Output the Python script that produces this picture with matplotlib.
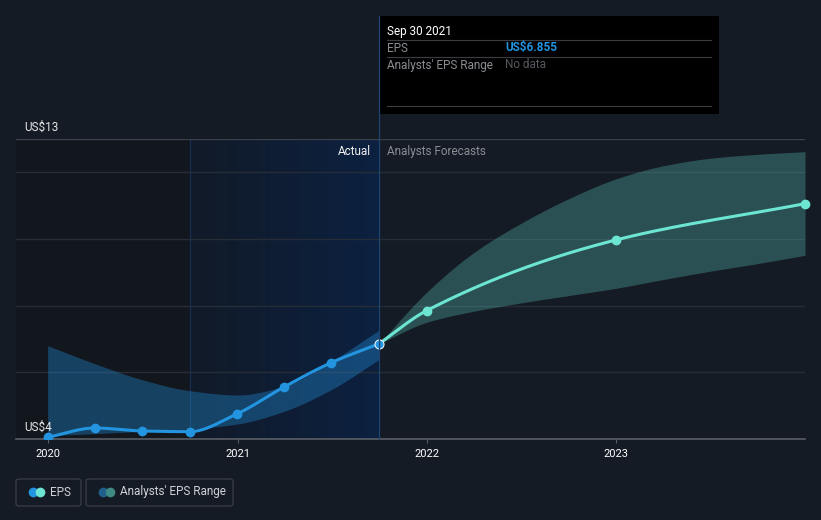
import numpy as np
import pandas as pd
import matplotlib
matplotlib.use('Agg')
import matplotlib.pyplot as plt
import matplotlib.dates as mdates
from matplotlib.patches import Rectangle, FancyBboxPatch
from matplotlib.lines import Line2D

plt.rcParams['font.family'] = ['Roboto', 'DejaVu Sans']

# Данные: фактический EPS
eps_dates = ['2019-12-31', '2020-03-31', '2020-06-30', '2020-09-30',
             '2020-12-31', '2021-03-31', '2021-06-30', '2021-09-30']
eps_vals = [4.05, 4.33, 4.24, 4.22, 4.76, 5.56, 6.29, 6.855]

# Прошлый диапазон аналитиков
range_low = [4.10, 4.16, 4.23, 4.30, 4.45, 4.83, 5.48, 6.38]
range_high = [6.80, 6.26, 5.78, 5.45, 5.32, 5.58, 6.33, 7.26]

# Прогноз
fc_dates = ['2021-09-30', '2021-12-31', '2022-12-31', '2023-12-31']
fc_vals = [6.855, 7.85, 9.97, 11.06]

fc_band_dates = ['2021-09-30', '2021-12-31', '2022-03-31', '2022-06-30', '2022-09-30',
                 '2022-12-31', '2023-03-31', '2023-06-30', '2023-09-30', '2023-12-31']
fc_high = [6.855, 8.40, 9.58, 10.46, 11.20, 11.80, 12.19, 12.42, 12.54, 12.62]
fc_low = [6.855, 7.50, 7.83, 8.08, 8.30, 8.52, 8.78, 9.03, 9.26, 9.51]

year_ticks = ['2020', '2021', '2022', '2023']

BG = '#151b24'
BLUE = '#2394df'
MINT = '#6ce5d2'


def to_num(dates):
    return mdates.date2num(pd.to_datetime(dates))


def smooth(x, y, n=200):
    # монотонная кубическая кривая для отрисовки (Fritsch-Carlson)
    x = np.asarray(x, float)
    y = np.asarray(y, float)
    h = np.diff(x)
    d = np.diff(y) / h
    m = np.zeros_like(y)
    m[0], m[-1] = d[0], d[-1]
    for i in range(1, len(y) - 1):
        if d[i - 1] * d[i] <= 0:
            m[i] = 0
        else:
            w1 = 2 * h[i] + h[i - 1]
            w2 = h[i] + 2 * h[i - 1]
            m[i] = (w1 + w2) / (w1 / d[i - 1] + w2 / d[i])
    xs = np.linspace(x[0], x[-1], n)
    idx = np.clip(np.searchsorted(x, xs) - 1, 0, len(x) - 2)
    t = (xs - x[idx]) / h[idx]
    h00 = 2 * t**3 - 3 * t**2 + 1
    h10 = t**3 - 2 * t**2 + t
    h01 = -2 * t**3 + 3 * t**2
    h11 = t**3 - t**2
    ys = h00 * y[idx] + h10 * h[idx] * m[idx] + h01 * y[idx + 1] + h11 * h[idx] * m[idx + 1]
    return xs, ys


fig = plt.figure(figsize=(8.21, 5.2), dpi=100, facecolor=BG)
W, H = 821, 520
ax = fig.add_axes([16 / W, (H - 439) / H, (805 - 16) / W, 300 / H])
ax.set_facecolor(BG)

x0 = to_num(['2019-10-31'])[0]
x1 = to_num(['2023-12-31'])[0]
hl_start = to_num(['2020-09-30'])[0]
now = to_num(['2021-09-30'])[0]
ax.set_xlim(x0, x1)
ax.set_ylim(4, 13)

# тёмная область слева и подсветка последнего года
ax.axvspan(x0, hl_start, color='#12161d', zorder=0, lw=0)
grad = np.zeros((2, 256, 4))
c0 = np.array(matplotlib.colors.to_rgb('#111a28'))
c1 = np.array(matplotlib.colors.to_rgb('#0c2141'))
for i in range(256):
    grad[:, i, :3] = c0 + (c1 - c0) * i / 255
grad[:, :, 3] = 1
ax.imshow(grad, extent=[hl_start, now, 4, 13], aspect='auto', zorder=0.5)
ax.axvline(hl_start, color='#15305a', lw=0.8, zorder=0.6)

# сетка
for v in [6, 8, 10, 12]:
    ax.axhline(v, color='#272d37', lw=1, zorder=1)
ax.axhline(13, color='#3b414b', lw=1, zorder=1)

# диапазоны
ex, lo = smooth(to_num(eps_dates), range_low)
_, hi = smooth(to_num(eps_dates), range_high)
ax.fill_between(ex, lo, hi, color=BLUE, alpha=0.35, lw=0, zorder=2)

fx, flo = smooth(to_num(fc_band_dates), fc_low)
_, fhi = smooth(to_num(fc_band_dates), fc_high)
ax.fill_between(fx, flo, fhi, color='#58bfb4', alpha=0.33, lw=0, zorder=2)

# линии
lx, ly = smooth(to_num(eps_dates), eps_vals)
ax.plot(lx, ly, color=BLUE, lw=2.2, zorder=4, solid_capstyle='round')
ax.plot(to_num(eps_dates[:-1]), eps_vals[:-1], 'o', color=BLUE, ms=6, zorder=5)
fx2, fy2 = smooth(to_num(fc_dates), fc_vals)
ax.plot(fx2, fy2, color=MINT, lw=2.2, zorder=4)
ax.plot(to_num(fc_dates[1:]), fc_vals[1:], 'o', color=MINT, ms=6, zorder=5, clip_on=False)
ax.plot(to_num(eps_dates[-1:]), eps_vals[-1:], 'o', color=BLUE, ms=6.5,
        markeredgecolor='#e8f2fb', markeredgewidth=0.8, zorder=6)

# ось X
for s in ax.spines.values():
    s.set_visible(False)
ax.axhline(4, color='#5a5f67', lw=1.2, zorder=3, clip_on=False)
ax.set_xticks(to_num([y + '-01-01' for y in year_ticks]))
ax.set_xticklabels(year_ticks)
ax.tick_params(axis='x', colors='white', labelsize=8, length=3, width=0.8,
               color='#5a5f67', pad=4)
ax.set_yticks([])

# подписи оси Y
fig.text(24 / W, 1 - 127 / H, 'US$13', color='#e6e6e6', fontsize=8.5, va='center')
fig.text(24 / W, 1 - 427 / H, 'US$4', color='#e6e6e6', fontsize=8.5, va='center')
fig.text(371 / W, 1 - 151 / H, 'Actual', color='#f0f0f0', fontsize=8.5, va='center', ha='right')
fig.text(387 / W, 1 - 151 / H, 'Analysts Forecasts', color='#8a8d92', fontsize=8.5, va='center')

# вертикальная линия текущей даты
fig.add_artist(Line2D([379 / W, 379 / W], [1 - 16 / H, 1 - 439 / H], color='#1e4570', lw=0.9))

# подсказка
fig.add_artist(Rectangle((379 / W, 1 - 114 / H), (719 - 379) / W, (114 - 16) / H,
                         facecolor='black', edgecolor='none'))
for yy in [40, 57, 106]:
    fig.add_artist(Line2D([387 / W, 711 / W], [1 - yy / H, 1 - yy / H], color='#3a3d42', lw=0.8))
fig.text(387 / W, 1 - 31 / H, 'Sep 30 2021', color='white', fontsize=8.5, va='center')
fig.text(387 / W, 1 - 48 / H, 'EPS', color='#8a8d92', fontsize=8.5, va='center')
fig.text(505 / W, 1 - 48 / H, 'US$6.855', color=BLUE, fontsize=8.5, va='center', fontweight='bold')
fig.text(387 / W, 1 - 65 / H, "Analysts' EPS Range", color='#8a8d92', fontsize=8.5, va='center')
fig.text(505 / W, 1 - 65 / H, 'No data', color='#55585d', fontsize=8.5, va='center')

# легенда
for (lx0, lx1, label, c1_, c2_) in [(16, 81, 'EPS', BLUE, MINT),
                                     (86, 233, "Analysts' EPS Range", '#1f5f8a', '#3f8a84')]:
    fig.add_artist(FancyBboxPatch((lx0 / W, 1 - 506 / H), (lx1 - lx0) / W, 27 / H,
                                  boxstyle='round,pad=0,rounding_size=0.004',
                                  facecolor='none', edgecolor='#3a3f47', lw=0.9))
    fig.add_artist(Line2D([(lx0 + 17) / W], [1 - 492 / H], marker='o', ms=7,
                          color=c1_, markeredgewidth=0))
    fig.add_artist(Line2D([(lx0 + 24) / W], [1 - 492 / H], marker='o', ms=7,
                          color=c2_, markeredgewidth=0))
    fig.text((lx0 + 34) / W, 1 - 492 / H, label, color='#d0d2d5', fontsize=8.5, va='center')

fig.savefig('out.png', dpi=100, facecolor=BG)
